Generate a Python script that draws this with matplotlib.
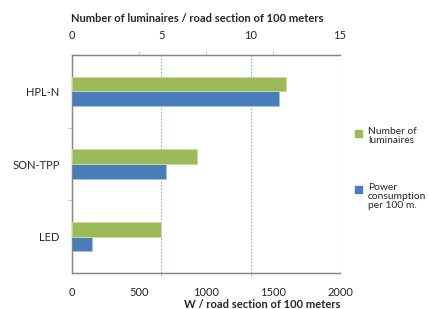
import matplotlib
matplotlib.use("Agg")
import numpy as np
from matplotlib import pyplot as plt
from matplotlib.patches import Rectangle

# data
categories = ["HPL-N", "SON-TPP", "LED"]
luminaires = [12, 7, 5]          # number per 100 m (top axis)
power = [1545, 700, 150]         # W per 100 m (bottom axis)
power_ticks = [0, 500, 1000, 1500, 2000]
lum_ticks = [0, 5, 10, 15]

green = "#9BBB59"
blue = "#4A7EBB"
txt = "#262626"
axcol = "#868686"

plt.rcParams['font.family'] = ['Lato', 'DejaVu Sans']
plt.rcParams['font.size'] = 8

fig = plt.figure(figsize=(4.28, 3.09), dpi=100)
ax = fig.add_axes([72/428, 1-273/309, 268/428, 218/309])
ax2 = ax.twiny()

y = np.arange(len(categories))
h = 0.2
ax.barh(y + h/2, power, height=h, color=blue, edgecolor="#a8c0e0", linewidth=0.6, zorder=3)
ax2.barh(y - h/2, luminaires, height=h, color=green, edgecolor="#c9dba5", linewidth=0.6, zorder=3)

ax.set_xlim(0, 2000)
ax2.set_xlim(0, 15)
ax.set_ylim(2.5, -0.5)

# bottom axis
ax.set_xticks(power_ticks)
ax.set_xticklabels([str(v) for v in power_ticks], color=txt)
ax.tick_params(axis='x', which='major', length=0, pad=10)
ax.set_xticks([v * 2000 / 15 for v in lum_ticks], minor=True)
ax.tick_params(axis='x', which='minor', length=3, color="#bfbfbf", direction='out')

# top axis
ax2.set_xticks(lum_ticks)
ax2.set_xticklabels([str(v) for v in lum_ticks], color=txt)
ax2.tick_params(axis='x', which='major', length=0, pad=10)
ax2.set_xticks([v * 15 / 2000 for v in power_ticks], minor=True)
ax2.tick_params(axis='x', which='minor', length=3, color="#bfbfbf", direction='out')

# gridlines at the top axis steps, behind the bars
for v in lum_ticks[1:]:
    ax.axvline(v * 2000 / 15, color="#8fabd8", linestyle=(0, (1.5, 1.5)), linewidth=0.8, zorder=1)

# y axis
ax.set_yticks(y)
ax.set_yticklabels(categories, color=txt)
ax.tick_params(axis='y', which='major', length=0, pad=9)
ax.set_yticks([0.5, 1.5], minor=True)
ax.tick_params(axis='y', which='minor', length=3, color="#bfbfbf")
ax2.tick_params(axis='y', length=0)

for a in (ax, ax2):
    a.spines['right'].set_visible(False)
    for s in ('top', 'bottom', 'left'):
        a.spines[s].set_color(axcol)
        a.spines[s].set_linewidth(0.9)

fig.text(71/428, 1-18/309, "Number of luminaires / road section of 100 meters",
         fontweight='bold', color=txt, ha='left', va='center')
fig.text(340/428, 1-304/309, "W / road section of 100 meters",
         fontweight='bold', color=txt, ha='right', va='center')

# legend
legend_items = [(green, "Number of\nluminaires", 133), (blue, "Power\nconsumption\nper 100 m.", 189)]
for col, label, ypix in legend_items:
    fig.add_artist(Rectangle((355/428, 1-(ypix+4)/309), 7/428, 7/309,
                             transform=fig.transFigure, color=col))
    fig.text(368/428, 1-(ypix-6)/309, label, color=txt, ha='left', va='top',
             linespacing=1.0, fontsize=7.4)

fig.savefig("out.png", dpi=100)
